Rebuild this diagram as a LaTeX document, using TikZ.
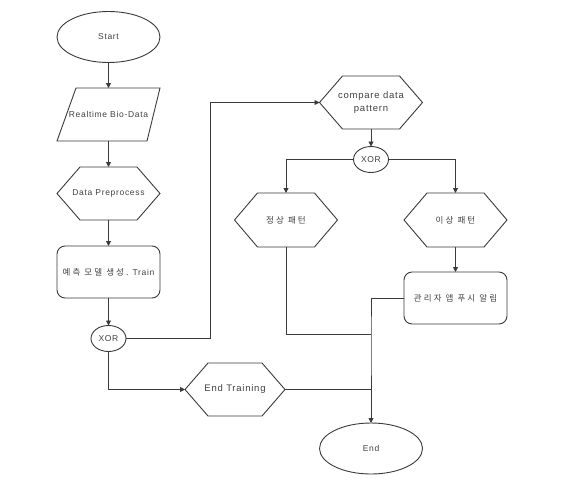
\documentclass[tikz,border=0pt]{standalone}
\usepackage{fontspec}
\setmainfont{Liberation Sans}[LetterSpace=8]
\newfontfamily\kr{Noto Sans CJK KR}[LetterSpace=25]
\usepackage{xcolor}
\usepackage{tikz}
\usetikzlibrary{arrows.meta, positioning, shapes}

\definecolor{lineclr}{HTML}{3A3A3A}
\definecolor{textclr}{HTML}{404040}

\tikzset{
  line/.style={draw=lineclr, line width=0.9pt},
  arr/.style={line, -{Triangle[length=5pt, width=5pt]}},
  txt/.style={text=textclr, font=\fontsize{8.5}{10}\selectfont, align=center, inner sep=0pt, outer sep=0pt},
  startend/.style={txt, ellipse, line, minimum width=103pt, minimum height=51pt},
  hexbox/.style={txt, rectangle, minimum width=103pt, minimum height=53pt},
  roundbox/.style={txt, rectangle, line, rounded corners=8pt, minimum width=103pt, minimum height=52pt},
  xorbox/.style={txt, ellipse, line, fill=white, minimum width=35pt, minimum height=26pt}
}

\begin{document}
\begin{tikzpicture}[x=1pt, y=-1pt]
      \useasboundingbox (0,0) rectangle (578,482);

      % Left column: training
      \node[startend] (start) at (108.5,37) {Start};
      \node[hexbox] (data) at (108.5,114.5) {Realtime Bio-Data};
      \node[hexbox] (prep) at (108.5,193.5) {Data Preprocess};
      \node[roundbox] (train) at (108.5,272) {{\kr 예측 모델 생성.} Train};
      \node[xorbox] (xor1) at (108.5,338.5) {XOR};
      \node[hexbox, minimum width=100pt, font=\fontsize{9.5}{11}\selectfont] (endtr) at (235,389.5) {End Training};

      % Right column: pattern check
      \node[hexbox, font=\fontsize{9.5}{11}\selectfont] (cmp) at (371,102.5) {compare data\\[2pt]pattern};
      \node[xorbox] (xor2) at (371,159.5) {XOR};
      \node[hexbox, minimum height=54pt] (norm) at (286,220) {\kr 정상 패턴};
      \node[hexbox, minimum height=54pt] (abn) at (455.5,220) {\kr 이상 패턴};
      \node[roundbox] (alert) at (455.5,298) {\kr 관리자 앱 푸시 알림};
      \node[startend] (end) at (371,448.5) {End};

      % Parallelogram outline
      \draw[line] ([xshift=19pt]data.north west) -- (data.north east)
        -- ([xshift=-13pt]data.south east) -- (data.south west) -- cycle;

      % Hexagon outlines
      \foreach \h in {prep, endtr, cmp, norm, abn} {
        \draw[line] (\h.west) -- ([xshift=23pt]\h.north west) -- ([xshift=-23pt]\h.north east)
          -- (\h.east) -- ([xshift=-23pt]\h.south east) -- ([xshift=23pt]\h.south west) -- cycle;
      }

      % Helper points
      \coordinate (loop) at (210,102.5);
      \coordinate (join) at (371,334);

      % Connectors
      \draw[arr] (start) -- (data);
      \draw[arr] (data) -- (prep);
      \draw[arr] (prep) -- (train);
      \draw[arr] (train) -- (xor1);
      \draw[arr] (xor1.east) -| (loop) -- (cmp.west);
      \draw[arr] (xor1.south) |- (endtr.west);
      \draw[arr] (cmp) -- (xor2);
      \draw[arr] (xor2.west) -| (norm.north);
      \draw[arr] (xor2.east) -| (abn.north);
      \draw[arr] (abn) -- (alert);
      \draw[line] (norm.south) |- (join);
      \draw[line] (endtr.east) -- (endtr.east -| end.north);
      \draw[arr] (alert.west) -| (join) -- (end.north);

    \end{tikzpicture}
\end{document}
